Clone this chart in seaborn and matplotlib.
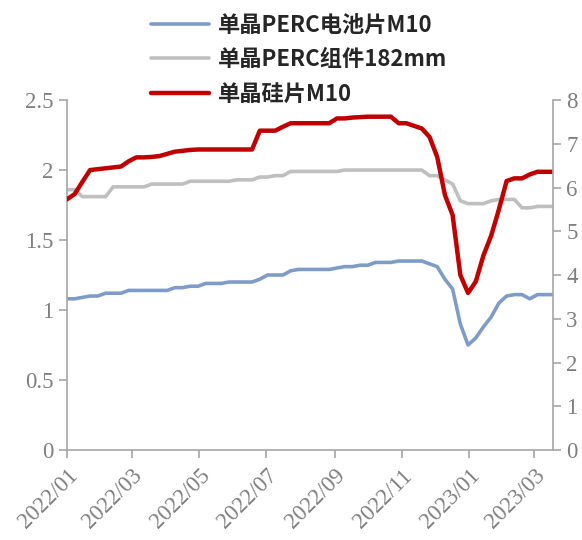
import pandas as pd
import numpy as np
import matplotlib
matplotlib.use("Agg")
import matplotlib.pyplot as plt
import matplotlib.dates as mdates
import seaborn as sns

# estilo
sns.set_style("ticks")
plt.rcParams['font.family'] = ['Liberation Serif', 'DejaVu Sans']

# dados semanais
datas = pd.date_range('2022-01-01', periods=64, freq='7D')

celula_m10 = [1.08, 1.08, 1.09, 1.10, 1.10, 1.12, 1.12, 1.12, 1.14, 1.14,
              1.14, 1.14, 1.14, 1.14, 1.16, 1.16, 1.17, 1.17, 1.19, 1.19,
              1.19, 1.20, 1.20, 1.20, 1.20, 1.22, 1.25, 1.25, 1.25, 1.28,
              1.29, 1.29, 1.29, 1.29, 1.29, 1.30, 1.31, 1.31, 1.32, 1.32,
              1.34, 1.34, 1.34, 1.35, 1.35, 1.35, 1.35, 1.33, 1.31, 1.22,
              1.15, 0.90, 0.75, 0.80, 0.88, 0.95, 1.05, 1.10, 1.11, 1.11,
              1.08, 1.11, 1.11, 1.11]

modulo_182 = [1.86, 1.86, 1.81, 1.81, 1.81, 1.81, 1.88, 1.88, 1.88, 1.88,
              1.88, 1.90, 1.90, 1.90, 1.90, 1.90, 1.92, 1.92, 1.92, 1.92,
              1.92, 1.92, 1.93, 1.93, 1.93, 1.95, 1.95, 1.96, 1.96, 1.99,
              1.99, 1.99, 1.99, 1.99, 1.99, 1.99, 2.00, 2.00, 2.00, 2.00,
              2.00, 2.00, 2.00, 2.00, 2.00, 2.00, 2.00, 1.96, 1.96, 1.93,
              1.90, 1.78, 1.76, 1.76, 1.76, 1.78, 1.79, 1.79, 1.79, 1.73,
              1.73, 1.74, 1.74, 1.74]

wafer_m10 = [5.73, 5.85, 6.13, 6.40, 6.42, 6.44, 6.46, 6.48, 6.60, 6.69,
             6.69, 6.70, 6.72, 6.77, 6.82, 6.84, 6.86, 6.87, 6.87, 6.87,
             6.87, 6.87, 6.87, 6.87, 6.87, 7.30, 7.30, 7.30, 7.39, 7.47,
             7.47, 7.47, 7.47, 7.47, 7.47, 7.58, 7.58, 7.60, 7.61, 7.62,
             7.62, 7.62, 7.62, 7.47, 7.47, 7.41, 7.35, 7.16, 6.70, 5.83,
             5.37, 4.00, 3.59, 3.85, 4.45, 4.90, 5.50, 6.15, 6.21, 6.21,
             6.30, 6.36, 6.36, 6.36]

nomes = ['单晶PERC电池片M10', '单晶PERC组件182mm', '单晶硅片M10']
cores = ['#7F9CC9', '#BFBFBF', '#C00000']

df = pd.DataFrame({'data': datas, 'celula': celula_m10,
                   'modulo': modulo_182, 'wafer': wafer_m10})

cinza = '#A6A6A6'
texto = '#7F7F7F'

fig = plt.figure(figsize=(5.82, 5.4), dpi=100)
ax = fig.add_axes([0.115, 0.1667, 0.835, 0.648])
ax2 = ax.twinx()

sns.lineplot(data=df, x='data', y='celula', ax=ax, color=cores[0], lw=2.6, label=nomes[0], legend=False)
sns.lineplot(data=df, x='data', y='modulo', ax=ax, color=cores[1], lw=2.6, label=nomes[1], legend=False)
sns.lineplot(data=df, x='data', y='wafer', ax=ax2, color=cores[2], lw=3.2, label=nomes[2], legend=False)

ax.set_ylim(0, 2.5)
ax.set_yticks([0, 0.5, 1, 1.5, 2, 2.5])
ax.set_yticklabels(['0', '0.5', '1', '1.5', '2', '2.5'])
ax2.set_ylim(0, 8)
ax2.set_yticks(range(0, 9))

ax.set_xlim(pd.Timestamp('2022-01-01'), pd.Timestamp('2023-03-18'))
ax.set_xticks(pd.date_range('2022-01-01', '2023-03-01', freq='2MS'))
ax.xaxis.set_major_formatter(mdates.DateFormatter('%Y/%m'))

for a in (ax, ax2):
    a.set_xlabel('')
    a.set_ylabel('')
    a.spines['top'].set_visible(False)
    for s in ('left', 'right', 'bottom'):
        a.spines[s].set_color(cinza)
        a.spines[s].set_linewidth(1.2)
    a.tick_params(colors=cinza, labelcolor=texto, length=6, width=1.2, labelsize=16.5)

ax.spines['right'].set_visible(False)
ax2.spines['left'].set_visible(False)
ax2.spines['bottom'].set_visible(False)
ax.tick_params(axis='x', labelsize=16.5, pad=5)
plt.setp(ax.get_xticklabels(), rotation=45, ha='right', rotation_mode='anchor')

# legenda em cima
handles = ax.get_lines()[:2] + ax2.get_lines()[:1]
fig.legend(handles, nomes, loc='upper left', bbox_to_anchor=(0.225, 1.012),
           frameon=False, handlelength=2.6, handletextpad=0.4, labelspacing=0.52,
           prop={'family': ['Noto Sans CJK SC', 'DejaVu Sans'], 'weight': 'bold', 'size': 16})

plt.savefig('out.png', dpi=100)
